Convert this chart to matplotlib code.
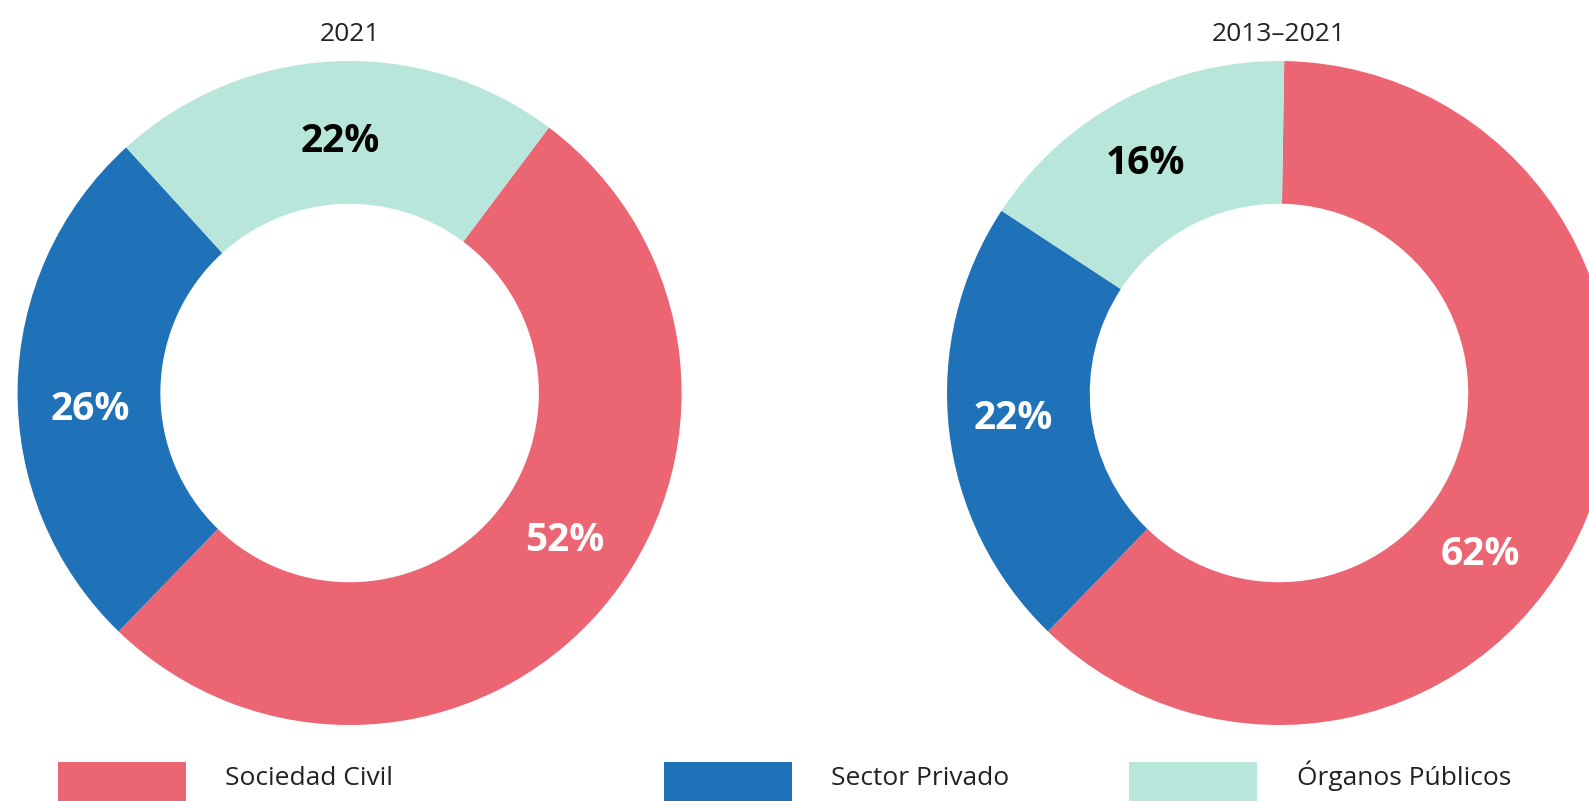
#Donut charts: share of participants by sector
import matplotlib.pyplot as plt
from matplotlib.patches import Rectangle
from matplotlib.legend_handler import HandlerPatch


######################################
#...........Data.....................#
######################################

#Categories (same order in both donuts)
categories = ['Sociedad Civil', 'Sector Privado', 'Órganos Públicos']

#Share for the year 2021
share_2021 = [52, 26, 22]
#Share for the whole period 2013-2021
share_2013_2021 = [62, 22, 16]

titles = ['2021', '2013–2021']


######################################
#...........Style....................#
######################################

RED = '#EB6573'
BLUE = '#1F71B8'
TEAL = '#B8E6DB'
COLOURS = [RED, BLUE, TEAL]
PCT_COLOURS = ['white', 'white', 'black']

FONT = ['Open Sans', 'DejaVu Sans']

W, H = 1589, 801
RADIUS_PX = 332


#Axes box in figure fraction for a donut centred at (cx, cy) px from top-left
def donutBox(cx, cy):
	left = (cx - RADIUS_PX) / W
	bottom = (H - cy - RADIUS_PX) / H
	return [left, bottom, 2 * RADIUS_PX / W, 2 * RADIUS_PX / H]


#Legend swatch that runs past the bottom of the figure
def tallSwatch(legend, orig_handle, xdescent, ydescent, width, height, fontsize):
	ext = 20
	return Rectangle((-xdescent, -ydescent - ext), width, height + ext)


def drawDonut(ax, values, title, startangle, label_pos):
	wedges, texts, autotexts = ax.pie(values, colors=COLOURS, startangle=startangle,
		counterclock=False, radius=1, autopct='%d%%', pctdistance=0.78,
		wedgeprops=dict(width=0.43, linewidth=0))
	for i, t in enumerate(autotexts):
		t.set_color(PCT_COLOURS[i])
		t.set_fontsize(28)
		t.set_fontweight('bold')
		t.set_family(FONT)
		t.set_position(label_pos[i])
	ax.set_xlim(-1, 1)
	ax.set_ylim(-1, 1)
	ax.set_aspect('equal')
	ax.axis('off')
	ax.text(0, 1.079, title, ha='center', va='center', fontsize=19,
		color='#222222', family=FONT, clip_on=False)
	return wedges


def main():
	plt.rcParams['font.family'] = FONT

	fig = plt.figure(figsize=(W / 100, H / 100), dpi=100)

	ax1 = fig.add_axes(donutBox(349.6, 393))
	ax2 = fig.add_axes(donutBox(1279, 393))

	#label spots (data units of each donut)
	pos1 = [(0.648, -0.445), (-0.780, -0.051), (-0.028, 0.757)]
	pos2 = [(0.606, -0.485), (-0.801, -0.078), (-0.401, 0.692)]

	wedges = drawDonut(ax1, share_2021, titles[0], 53.1, pos1)
	drawDonut(ax2, share_2013_2021, titles[1], 89.1, pos2)

	#three separate legend entries, spaced like the original
	#(anchored at the bottom so the accent on "Ó" does not shift the swatch)
	legend_x = [57.8 / W, 663.8 / W, 1129 / W]
	for i in range(len(categories)):
		leg = fig.legend([wedges[i]], [categories[i]], loc='lower left',
			bbox_to_anchor=(legend_x[i], 0.0119), frameon=False,
			fontsize=19, handlelength=4.85, handleheight=1.285,
			handletextpad=1.5, borderpad=0, borderaxespad=0,
			handler_map={wedges[i]: HandlerPatch(patch_func=tallSwatch)})
		for t in leg.get_texts():
			t.set_color('#222222')

	fig.savefig('out.png', dpi=100)


main()
